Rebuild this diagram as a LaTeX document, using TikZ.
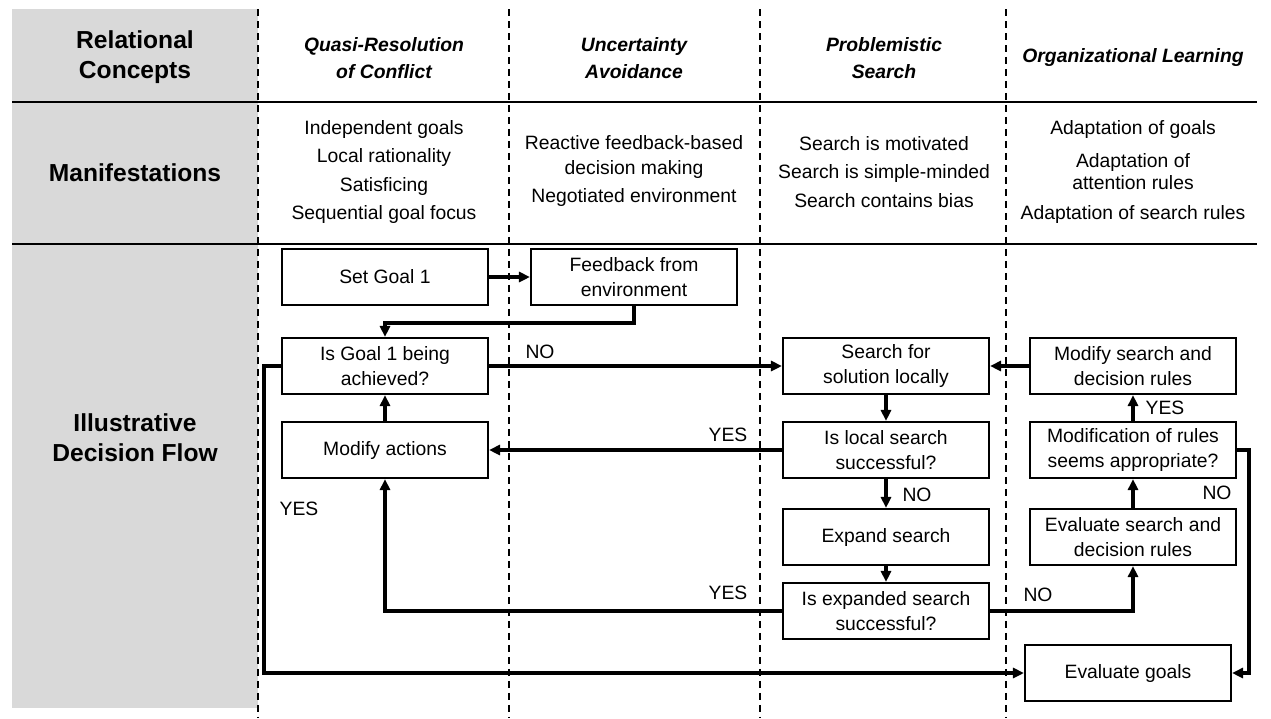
\documentclass[tikz,border=0pt]{standalone}
\usepackage{fontspec}
\setmainfont{Liberation Sans}
\usetikzlibrary{positioning,arrows.meta}

\begin{document}
\begin{tikzpicture}[x=0.02cm, y=-0.02cm,
      box/.style={rectangle, draw, line width=1.2pt, minimum width=4.12cm,
                  minimum height=1.12cm, align=center, inner sep=2pt,
                  font=\fontsize{11}{14}\selectfont},
      flow/.style={-{Triangle[length=2.2mm, width=2mm]}, line width=1.9pt},
      lane/.style={dash pattern=on 0.14cm off 0.1cm, line width=1.1pt},
      rowhead/.style={align=center, font=\fontsize{14}{17}\selectfont\bfseries},
      colhead/.style={align=center, font=\fontsize{11}{15}\selectfont\bfseries\itshape},
      item/.style={align=center, font=\fontsize{11}{13}\selectfont},
      tag/.style={inner sep=0pt, font=\fontsize{11}{13}\selectfont}]
    \useasboundingbox (0,0) rectangle (1271,718);
    \fill[black!15] (12,9) rectangle (258,708);
    \draw[line width=1.6pt] (12,102) -- (1257,102);
    \draw[line width=1.6pt] (12,244) -- (1257,244);
    \foreach \x in {258,509,760,1006}
      \draw[lane] (\x,9) -- (\x,718);

    \node[rowhead] (rc) at (135,57) {Relational\\Concepts};
    \node[rowhead] (mf) at (135,173) {Manifestations};
    \node[rowhead] (df) at (135,438) {Illustrative\\Decision Flow};

    \node[colhead] (c1) at (384,58) {Quasi-Resolution\\of Conflict};
    \node[colhead] (c2) at (634,58) {Uncertainty\\Avoidance};
    \node[colhead] (c3) at (884,58) {Problemistic\\Search};
    \node[colhead] (c4) at (1133,57) {Organizational Learning};

    \node[item] (m1) at (384,172) {Independent goals\\[3.2pt]Local rationality\\[3.2pt]Satisficing\\[3.2pt]Sequential goal focus};
    \node[item] (m2) at (634,171) {Reactive feedback-based\\[1.2pt]decision making\\[2.9pt]Negotiated environment};
    \node[item] (m3) at (884,172) {Search is motivated\\[3.4pt]Search is simple-minded\\[3.4pt]Search contains bias};
    \node[item] (m4) at (1133,172) {Adaptation of goals\\[5.7pt]Adaptation of\\attention rules\\[4pt]Adaptation of search rules};

    \node[box] (setgoal) at (385,277) {Set Goal 1};
    \node[box] (feedback) at (634,277) {Feedback from\\environment};
    \node[box] (isgoal) at (385,366) {Is Goal 1 being\\achieved?};
    \node[box] (modify) at (385,450) {Modify actions};
    \node[box] (search) at (886,366) {Search for\\solution locally};
    \node[box] (localok) at (886,450) {Is local search\\successful?};
    \node[box] (expand) at (886,537) {Expand search};
    \node[box] (expandok) at (886,611) {Is expanded search\\successful?};
    \node[box] (modrules) at (1133,366) {Modify search and\\decision rules};
    \node[box] (rulesok) at (1133,450) {Modification of rules\\seems appropriate?};
    \node[box] (evalrules) at (1133,537) {Evaluate search and\\decision rules};
    \node[box] (evalgoals) at (1128,673) {Evaluate goals};

    \draw[flow] (setgoal) -- (feedback);
    \draw[flow] (feedback.south) -- ++(0,17) -| (isgoal.north);
    \draw[flow] (isgoal) -- (search);
    \draw[flow] (modify) -- (isgoal);
    \draw[flow] (localok) -- (modify);
    \draw[flow] (expandok.west) -| (modify.south);
    \draw[flow] (isgoal.west) -- ++(-17,0) |- (evalgoals.west);
    \draw[flow] (search) -- (localok);
    \draw[flow] (localok) -- (expand);
    \draw[flow] (expand) -- (expandok);
    \draw[flow] (expandok.east) -| (evalrules.south);
    \draw[flow] (evalrules) -- (rulesok);
    \draw[flow] (rulesok) -- (modrules);
    \draw[flow] (modrules) -- (search);
    \draw[flow] (rulesok.east) -- ++(12,0) |- (evalgoals.east);

    \node[tag] (no1) at (540,352) {NO};
    \node[tag] (yes1) at (728,435) {YES};
    \node[tag] (yes2) at (728,593) {YES};
    \node[tag] (yes3) at (299,509) {YES};
    \node[tag] (no2) at (917,495) {NO};
    \node[tag] (no3) at (1038,595) {NO};
    \node[tag] (no4) at (1217,493) {NO};
    \node[tag] (yes4) at (1165,408) {YES};
  \end{tikzpicture}
\end{document}
